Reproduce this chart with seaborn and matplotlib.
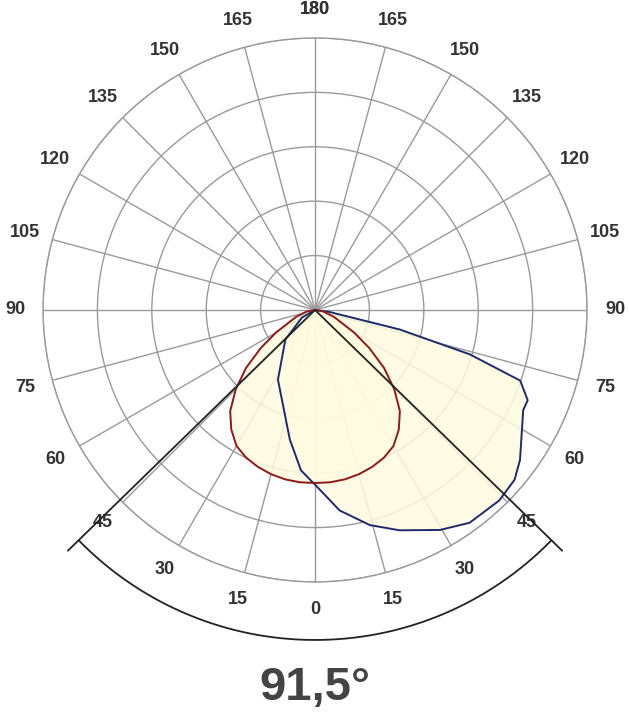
import numpy as np
import matplotlib.pyplot as plt
import seaborn as sns

sns.set_style("white")
plt.rcParams['font.family'] = ['Liberation Sans', 'DejaVu Sans']

# C0-C180 plane (red), symmetric lobe: angle from nadir (deg), intensity (px-scaled)
red_ang = [-90, -80, -70, -60, -55, -50, -45, -40, -35, -30, -25, -20, -15, -10, -5, 0,
           5, 10, 15, 20, 25, 30, 35, 40, 45, 50, 55, 60, 70, 80, 90]
red_val = [0, 8, 20, 45, 66, 90, 112, 132, 146, 157, 163, 167, 170, 172, 173, 173,
           173, 172, 170, 167, 163, 157, 146, 132, 112, 90, 66, 45, 20, 8, 0]

# C90-C270 plane (blue), asymmetric lobe
blue_ang = [-90, -60, -45, -28, -11, -5, 1.6, 7, 14.3, 21, 29.6, 36, 44, 49.6, 53.8,
            64.3, 67, 71, 74, 77, 82, 90]
blue_val = [0, 15, 42, 79, 132, 161, 180, 202, 222, 236, 253, 263, 265, 262, 254,
            231, 231, 217, 161, 87, 15, 0]

beam_angle = 91.5
tick_angles = list(range(-180, 181, 15))
ring_radii = [54.4, 108.8, 163.2, 217.6, 272]
rmax = 272

fig = plt.figure(figsize=(6.29, 7.2), dpi=100)
ax = fig.add_axes([0.0684, 0.1917, 0.8649, 0.7556], projection='polar')
ax.set_theta_zero_location('S')
ax.set_theta_direction(1)
ax.set_ylim(0, rmax)
ax.set_thetagrids(np.arange(0, 360, 15), labels=[''] * 24)
ax.set_rgrids(ring_radii, labels=[''] * len(ring_radii))
ax.grid(color='#9a9a9a', lw=1)
ax.spines['polar'].set_color('#9a9a9a')
ax.spines['polar'].set_linewidth(1)

fill = '#fffbe0'
for ang, val, col in [(blue_ang, blue_val, '#1f2a6b'), (red_ang, red_val, '#8b1a1a')]:
    th = np.radians(ang)
    ax.fill(th, val, color=fill, alpha=0.85, zorder=2)
    ax.plot(th, val, color=col, lw=1.4, zorder=3)

# tick labels around the circle
for a in tick_angles:
    ax.text(np.radians(a), 300, str(abs(a)), ha='center', va='center',
            fontsize=13, fontweight='bold', color='#333333', clip_on=False)

# beam angle lines and arc
half = np.radians(beam_angle / 2)
for s in (-1, 1):
    ax.plot([0, s * half], [0, 345], color='#222222', lw=1.3, clip_on=False, zorder=4)
arc = np.linspace(-half, half, 200)
ax.plot(arc, np.full_like(arc, 330), color='#222222', lw=1.3, clip_on=False, zorder=4)

fig.text(0.5, 0.045, "91,5°", ha='center', va='center', fontsize=34,
         fontweight='bold', color='#444444')

fig.savefig('out.png', dpi=100)
